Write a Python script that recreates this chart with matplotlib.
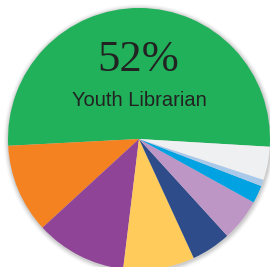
import matplotlib
matplotlib.use("Agg")
import matplotlib.pyplot as plt
from matplotlib.patches import Circle

categories = ["Youth Librarian", "Orange", "Purple", "Yellow", "Dark blue",
              "Lilac", "Cyan", "Light blue", "Other"]
values = [51.8, 11.0, 11.25, 8.8, 4.9, 5.2, 2.2, 0.8, 4.1]
colors = ["#20B15A", "#F58220", "#904497", "#FFCC5C", "#2E4C8A",
          "#BE96C5", "#00A2E2", "#A9C9EA", "#EFF0F2"]
big_label = "52%"
sub_label = "Youth Librarian"

W, H = 270, 267
fig = plt.figure(figsize=(W / 100, H / 100), dpi=100)
ax = fig.add_axes([0, 0, 1, 1])
ax.set_xlim(0, W)
ax.set_ylim(0, H)
ax.set_aspect("equal")
ax.axis("off")

cx, cy, r = 139, H - 139, 131

# soft shadow
for i, a in enumerate([0.06, 0.05, 0.04, 0.03, 0.02]):
    ax.add_patch(Circle((cx + 0.5, cy - 1.0), r + 1 + i, color="#000000",
                        alpha=a, lw=0, zorder=0))

ax.pie(values, colors=colors, startangle=-3.4, counterclock=True,
       center=(cx, cy), radius=r, frame=True,
       wedgeprops=dict(linewidth=0, antialiased=True))
ax.set_xlim(0, W)
ax.set_ylim(0, H)
ax.axis("off")

ax.text(138, H - 60, big_label, ha="center", va="center",
        fontsize=32, family="Liberation Serif", color="#222222")
ax.text(139, H - 100, sub_label, ha="center", va="center",
        fontsize=14.5, family=["Liberation Sans", "DejaVu Sans"],
        color="#222222")

fig.savefig("out.png", dpi=100)
